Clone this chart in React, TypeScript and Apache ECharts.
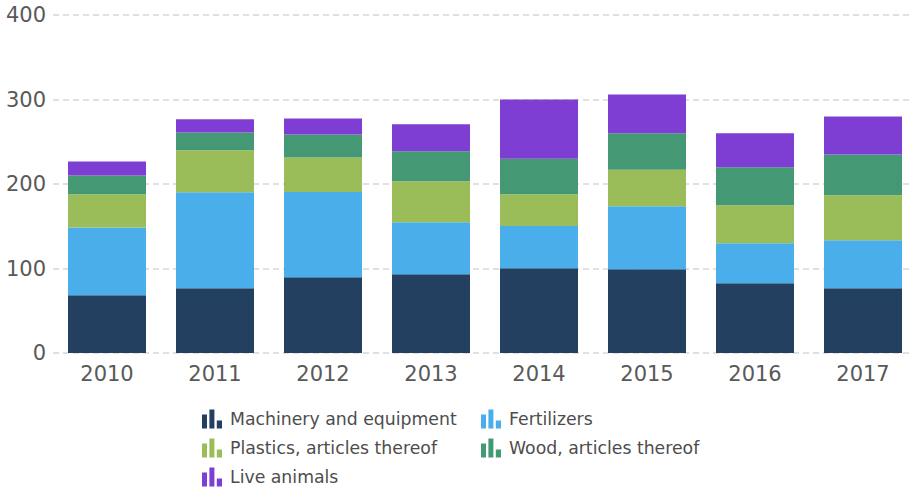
import React, { useEffect, useRef } from "react";
import * as echarts from "echarts";

const years = ["2010", "2011", "2012", "2013", "2014", "2015", "2016", "2017"];
const machinery = [68.3, 76.6, 89.6, 93.1, 100.2, 99, 82.5, 76.6];
const fertilizers = [80.1, 113.6, 100.9, 61.6, 50.1, 74.6, 47.3, 56.8];
const plastics = [39.4, 49.7, 41.0, 48.5, 37.5, 43.4, 45.0, 53.2];
const wood = [22.2, 21.1, 27.2, 35.5, 42.2, 43.0, 45.0, 48.4];
const liveAnimals = [16.6, 15.6, 18.9, 31.9, 70.0, 46.0, 40.2, 45.0];
const yTicks = [0, 100, 200, 300, 400];

const names = [
  "Machinery and equipment",
  "Fertilizers",
  "Plastics, articles thereof",
  "Wood, articles thereof",
  "Live animals",
];
const colors = ["#234060", "#49aeea", "#9abd59", "#449873", "#7e3dd3"];
const seriesData = [machinery, fertilizers, plastics, wood, liveAnimals];

const ICON =
  "path://M0,5L5,5L5,19L0,19Z M7.4,0L12.4,0L12.4,19L7.4,19Z M14.8,11L20,11L20,19L14.8,19Z";
const FONT = "DejaVu Sans";

export default function App() {
  const ref = useRef<HTMLDivElement>(null);
  useEffect(() => {
    if (!ref.current) return;
    const chart = echarts.init(ref.current, null, { renderer: "svg" });
    const legendCommon = {
      orient: "vertical" as const,
      top: 409.5,
      padding: 0,
      height: 80,
      itemWidth: 20,
      itemHeight: 19,
      itemGap: 10,
      icon: ICON,
      textStyle: {
        fontFamily: FONT,
        fontSize: 17.3,
        color: "#4d4d4d",
        padding: [0, 0, 0, 3],
      },
    };
    chart.setOption({
      animation: false,
      color: colors,
      grid: { left: 53, top: 15, width: 864, height: 338 },
      legend: [
        { ...legendCommon, left: 202, data: [names[0], names[2], names[4]] },
        { ...legendCommon, left: 481, data: [names[1], names[3]] },
      ],
      xAxis: {
        type: "category",
        data: years,
        axisLine: { show: false },
        axisTick: { show: false },
        axisLabel: {
          fontFamily: FONT,
          fontSize: 21,
          color: "#595959",
          margin: 10,
        },
      },
      yAxis: {
        type: "value",
        min: yTicks[0],
        max: yTicks[yTicks.length - 1],
        interval: 100,
        axisLine: { show: false },
        axisTick: { show: false },
        axisLabel: {
          fontFamily: FONT,
          fontSize: 21,
          color: "#595959",
          margin: 7,
        },
        splitLine: {
          lineStyle: { color: "#d6d6d6", width: 1.5, type: [6, 4] },
        },
      },
      series: seriesData.map((d, i) => ({
        name: names[i],
        type: "bar",
        stack: "total",
        data: d,
        barWidth: 78,
        itemStyle: { color: colors[i] },
      })),
    });
    return () => chart.dispose();
  }, []);
  return (
    <div
      style={{
        position: "absolute",
        left: 0,
        top: 0,
        width: 909,
        height: 489,
        overflow: "hidden",
      }}
    >
      <div ref={ref} style={{ width: 917, height: 489 }} />
    </div>
  );
}
